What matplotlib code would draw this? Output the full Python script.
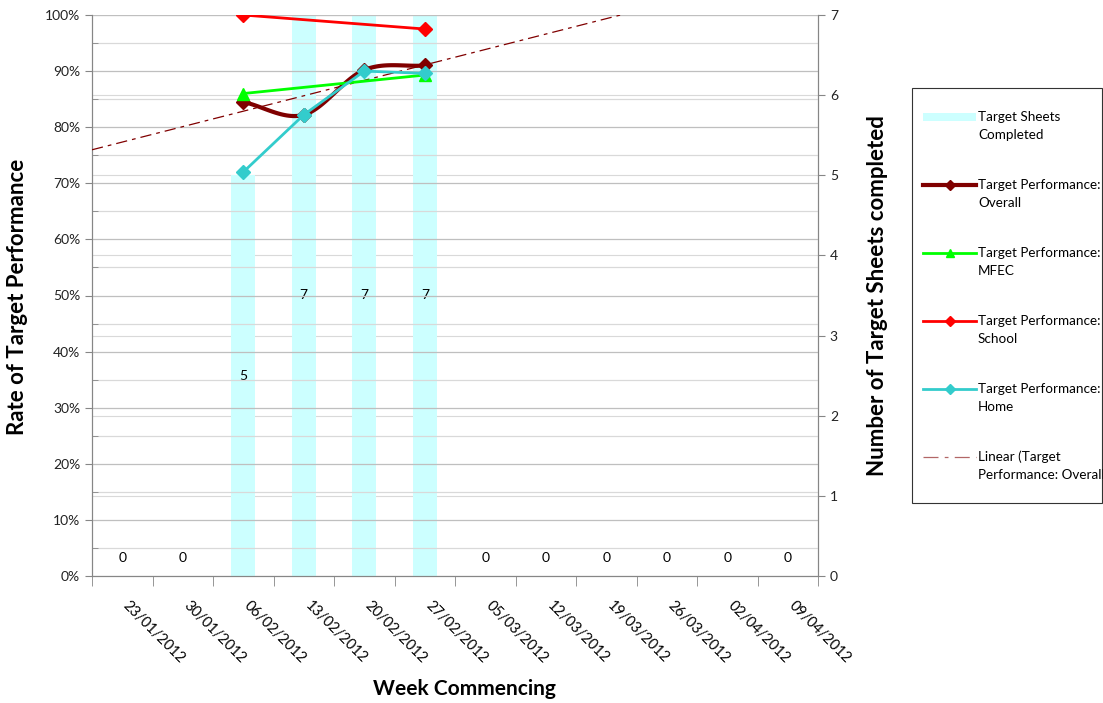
import numpy as np
import matplotlib
matplotlib.use("Agg")
import matplotlib.pyplot as plt
from matplotlib.lines import Line2D
from matplotlib.patches import Rectangle
from matplotlib.ticker import MultipleLocator, PercentFormatter
from matplotlib.transforms import ScaledTranslation

plt.rcParams['font.family'] = ['Lato', 'DejaVu Sans']

weeks = ["23/01/2012", "30/01/2012", "06/02/2012", "13/02/2012", "20/02/2012",
         "27/02/2012", "05/03/2012", "12/03/2012", "19/03/2012", "26/03/2012",
         "02/04/2012", "09/04/2012"]
sheets_completed = [0, 0, 5, 7, 7, 7, 0, 0, 0, 0, 0, 0]
nan = np.nan
perf_overall = [nan, nan, 84.5, 82.2, 90.2, 91.0, nan, nan, nan, nan, nan, nan]
perf_mfec = [nan, nan, 86.0, nan, nan, 89.3, nan, nan, nan, nan, nan, nan]
perf_school = [nan, nan, 100.0, nan, nan, 97.5, nan, nan, nan, nan, nan, nan]
perf_home = [nan, nan, 72.0, 82.2, 90.0, 89.6, nan, nan, nan, nan, nan, nan]

C_BAR = "#CCFFFF"
C_OVERALL = "#800000"
C_MFEC = "#00FF00"
C_SCHOOL = "#FF0000"
C_HOME = "#33CCCC"
C_GRID = "#BFBFBF"
C_AXIS = "#868686"

W, H = 1103, 703


def catmull_rom(xs, ys, n=30):
    """Smooth curve through the given points (Catmull-Rom spline)."""
    xs = np.asarray(xs, float)
    ys = np.asarray(ys, float)
    px = np.concatenate([[2 * xs[0] - xs[1]], xs, [2 * xs[-1] - xs[-2]]])
    py = np.concatenate([[2 * ys[0] - ys[1]], ys, [2 * ys[-1] - ys[-2]]])
    out_x, out_y = [], []
    t = np.linspace(0, 1, n)
    for i in range(1, len(px) - 2):
        for arr, out in ((px, out_x), (py, out_y)):
            p0, p1, p2, p3 = arr[i - 1], arr[i], arr[i + 1], arr[i + 2]
            seg = 0.5 * ((2 * p1) + (-p0 + p2) * t
                         + (2 * p0 - 5 * p1 + 4 * p2 - p3) * t ** 2
                         + (-p0 + 3 * p1 - 3 * p2 + p3) * t ** 3)
            out.extend(seg)
    return np.array(out_x), np.array(out_y)


fig = plt.figure(figsize=(W / 100, H / 100), dpi=100)
ax = fig.add_axes([92 / W, 1 - 576 / H, (818 - 92) / W, (576 - 15) / H])
ax2 = ax.twinx()

x = np.arange(len(weeks))

# Bars on the secondary (count) axis, drawn underneath the lines
ax2.set_zorder(0)
ax.set_zorder(1)
ax.patch.set_visible(False)
ax2.bar(x, sheets_completed, width=0.4, color=C_BAR, zorder=1)
for xi, v in zip(x, sheets_completed):
    if v > 0:
        ax2.text(xi, v / 2, str(v), ha='center', va='center', fontsize=10, color='black', zorder=3)
    else:
        ax2.annotate(str(v), (xi, 0), xytext=(0, 9), textcoords='offset points',
                     ha='center', va='bottom', fontsize=10, color='black')

ax2.set_ylim(0, 7)
ax2.yaxis.set_major_locator(MultipleLocator(1))
ax2.grid(axis='y', color="#D9D9D9", linewidth=0.8, zorder=0)
ax2.set_axisbelow(True)

# Gridlines of the percentage axis
ax.set_ylim(0, 100)
ax.set_xlim(-0.5, len(weeks) - 0.5)
ax.yaxis.set_major_locator(MultipleLocator(10))
ax.yaxis.set_minor_locator(MultipleLocator(5))
ax.yaxis.set_major_formatter(PercentFormatter(decimals=0))
for yv in np.arange(5, 101, 5):
    ax.axhline(yv, color=C_GRID if yv % 10 == 0 else "#D9D9D9", linewidth=0.9, zorder=0)

# Overall: smoothed thick line
ov = np.array(perf_overall)
m = ~np.isnan(ov)
sx, sy = catmull_rom(x[m], ov[m])
ax.plot(sx, sy, color=C_OVERALL, linewidth=3, zorder=4, solid_capstyle='round')
ax.plot(x[m], ov[m], linestyle='none', marker='D', markersize=7, color=C_OVERALL, zorder=5)

# Linear trend of the overall series
coef = np.polyfit(x[m], ov[m], 1)
tx = np.array([-0.5, len(weeks) - 0.5])
ax.plot(tx, np.polyval(coef, tx), color=C_OVERALL, linewidth=0.9,
        dashes=(9, 4, 3, 4), zorder=3)


def plot_series(vals, color, marker, ms):
    v = np.array(vals)
    mm = ~np.isnan(v)
    ax.plot(x[mm], v[mm], color=color, linewidth=2, marker=marker, markersize=ms, zorder=5)


plot_series(perf_mfec, C_MFEC, '^', 9)
plot_series(perf_school, C_SCHOOL, 'D', 7)
plot_series(perf_home, C_HOME, 'D', 7)

# Axes styling
for a in (ax, ax2):
    a.spines['top'].set_visible(False)
    for s in ('left', 'right', 'bottom'):
        a.spines[s].set_color(C_AXIS)
ax.tick_params(axis='y', which='major', direction='out', length=5, color=C_AXIS,
               labelsize=10, labelcolor='#222222')
ax.tick_params(axis='y', which='minor', direction='in', length=4, color=C_AXIS)
ax2.tick_params(axis='y', direction='out', length=5, color=C_AXIS,
                labelsize=10, labelcolor='#222222')

ax.set_xticks(x)
ax.set_xticklabels(weeks, rotation=-45, ha='left', va='top', rotation_mode='anchor', fontsize=10.5)
ax.tick_params(axis='x', which='major', length=0, pad=16)
ax.set_xticks(np.arange(len(weeks) + 1) - 0.5, minor=True)
ax.tick_params(axis='x', which='minor', direction='out', length=7, color=C_AXIS)
shift = ScaledTranslation(0.08, 0, fig.dpi_scale_trans)
for lbl in ax.get_xticklabels():
    lbl.set_transform(lbl.get_transform() + shift)

ax.set_ylabel("Rate of Target Performance", fontsize=16, fontweight='bold', va='center')
ax.yaxis.set_label_coords((18 - 92) / (818 - 92), 0.497)
ax2.set_ylabel("Number of Target Sheets completed", fontsize=16, fontweight='bold', va='center')
ax2.yaxis.set_label_coords((877 - 92) / (818 - 92), 0.50)
ax.set_xlabel("Week Commencing", fontsize=15, fontweight='bold', va='center')
ax.xaxis.set_label_coords((464 - 92) / (818 - 92), -(689 - 576) / (576 - 15))


# Legend box drawn in figure pixel coordinates
def fx(px):
    return px / W


def fy(py):
    return 1 - py / H


fig.patches.append(Rectangle((fx(912), fy(503)), fx(1102) - fx(912), fy(88) - fy(503),
                             transform=fig.transFigure, facecolor='white',
                             edgecolor='#333333', linewidth=0.8, zorder=10))

legend_entries = [
    ("bar", C_BAR, None, "Target Sheets", "Completed"),
    ("line", C_OVERALL, 'D', "Target Performance:", "Overall"),
    ("line", C_MFEC, '^', "Target Performance:", "MFEC"),
    ("line", C_SCHOOL, 'D', "Target Performance:", "School"),
    ("line", C_HOME, 'D', "Target Performance:", "Home"),
    ("trend", C_OVERALL, None, "Linear (Target", "Performance: Overall"),
]
hx0, hx1, tx0 = 923, 976, 978
for i, (kind, color, marker, l1, l2) in enumerate(legend_entries):
    py = 117 + 68 * i
    if kind == "bar":
        fig.patches.append(Rectangle((fx(hx0), fy(py + 4)), fx(hx1) - fx(hx0), fy(py - 4) - fy(py + 4),
                                     transform=fig.transFigure, facecolor=color,
                                     edgecolor='none', zorder=11))
    elif kind == "line":
        lw = 3 if color == C_OVERALL else 2
        fig.add_artist(Line2D([fx(hx0), fx(hx1)], [fy(py), fy(py)], transform=fig.transFigure,
                              color=color, linewidth=lw, zorder=11))
        fig.add_artist(Line2D([fx((hx0 + hx1) / 2)], [fy(py)], transform=fig.transFigure,
                              color=color, marker=marker, markersize=6 if marker == '^' else 5,
                              linestyle='none', zorder=12))
    else:
        fig.add_artist(Line2D([fx(hx0), fx(hx1)], [fy(py), fy(py)], transform=fig.transFigure,
                              color=C_OVERALL, alpha=0.6, linewidth=0.9,
                              dashes=(12, 5, 3, 5), zorder=11))
    fig.text(fx(tx0), fy(py), l1, fontsize=9.7, va='center', ha='left', zorder=12)
    fig.text(fx(tx0), fy(py + 18), l2, fontsize=9.7, va='center', ha='left', zorder=12)

fig.savefig("out.png", dpi=100)
